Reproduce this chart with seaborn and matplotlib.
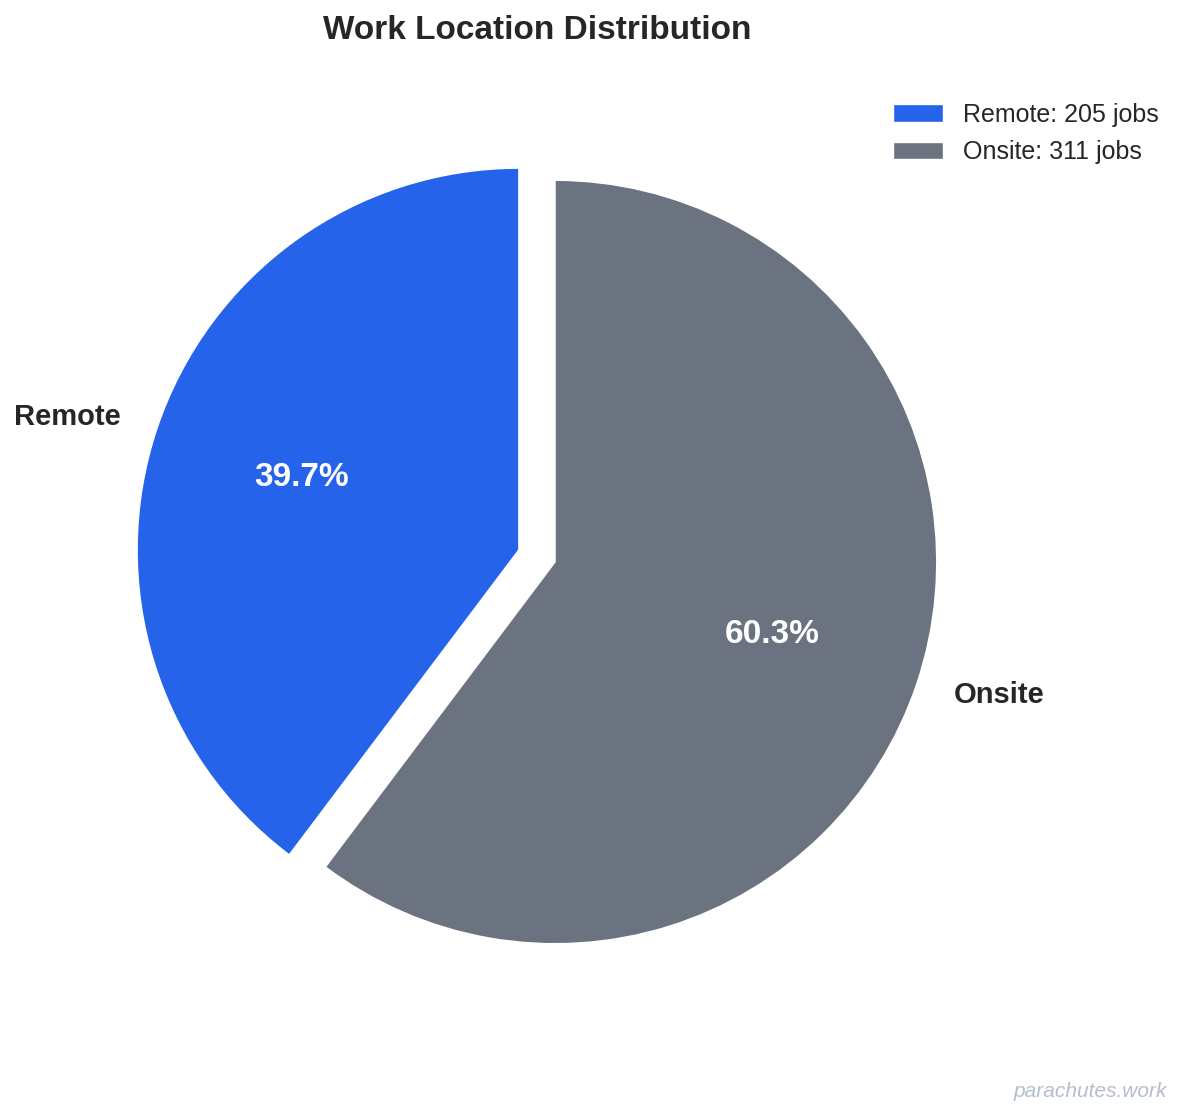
import matplotlib
matplotlib.use("Agg")
import matplotlib.pyplot as plt
import seaborn as sns

locations = ["Remote", "Onsite"]
job_counts = [205, 311]
slice_colors = ["#2563EB", "#6B7280"]

sns.set_theme(style="white")
plt.rcParams['font.family'] = ['Liberation Sans', 'DejaVu Sans']

fig = plt.figure(figsize=(11.84, 11.15), dpi=100)
ax = fig.add_axes([0.0505, 0.0734, 0.806, 0.856])

wedges, texts, autotexts = ax.pie(
    job_counts,
    labels=locations,
    colors=slice_colors,
    explode=(0.05, 0.05),
    startangle=90,
    autopct="%1.1f%%",
    textprops={"fontsize": 21, "fontweight": "bold"},
)
for t in autotexts:
    t.set_color("white")
    t.set_fontsize(24)

ax.set_title("Work Location Distribution", fontsize=24, fontweight="bold", pad=29)

legend_labels = [f"{loc}: {n} jobs" for loc, n in zip(locations, job_counts)]
fig.legend(wedges, legend_labels, loc="upper right", bbox_to_anchor=(0.998, 0.928),
           frameon=False, fontsize=18, labelspacing=0.54)

fig.text(0.986, 0.013, "parachutes.work", ha="right", va="bottom", fontsize=15,
         style="italic", color="#94A3B8", alpha=0.7)

fig.savefig("out.png", dpi=100)
